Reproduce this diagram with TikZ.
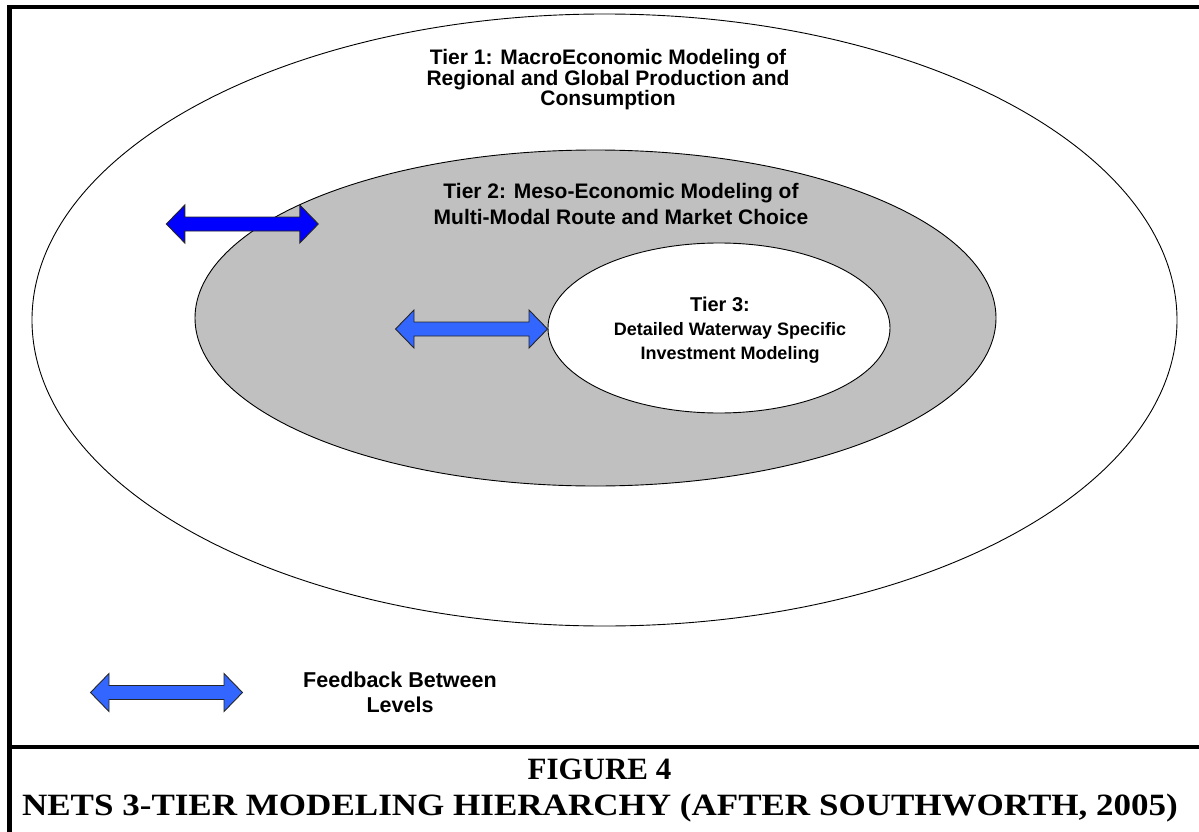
\documentclass[tikz,border=0pt]{standalone}
\usepackage{fontspec}
\setmainfont{Liberation Sans}
\newfontfamily\captionfont{Liberation Serif}
\definecolor{deepblue}{RGB}{0,0,255}
\definecolor{skyblue}{RGB}{51,102,255}
\definecolor{mesogray}{RGB}{192,192,192}
\begin{document}
\begin{tikzpicture}[x=1pt,y=-1pt,
  ring/.style={draw=black, line width=0.9pt},
  tiertext/.style={font=\bfseries\fontsize{21}{#1}\selectfont, align=center, inner sep=0pt, anchor=north},
  smalltext/.style={font=\bfseries\fontsize{18}{#1}\selectfont, align=center, inner sep=0pt, anchor=north},
  frameline/.style={line width=4.5pt},
  captiontext/.style={font=\captionfont\bfseries\fontsize{31}{31}\selectfont, inner sep=0pt, anchor=base},
  pics/feedback/.style={code={
    \draw[line width=0.9pt, draw=black!85, fill=#1, line join=miter]
      (-76,0) -- (-57.5,-19) -- (-57.5,-7) -- (57.5,-7) -- (57.5,-19) -- (76,0)
      -- (57.5,19) -- (57.5,7) -- (-57.5,7) -- (-57.5,19) -- cycle;
  }}
]
\useasboundingbox (0,0) rectangle (1199,832);
\fill[white] (0,0) rectangle (1199,832);

% outer frame and caption separator
\draw[frameline] (9.5,5) -- (9.5,840);
\draw[frameline] (7,7) -- (1210,7);
\draw[frameline] (7,747) -- (1210,747);

% nested tiers
\draw[ring, fill=white] (604.5,320) ellipse [x radius=572.5, y radius=306];
\draw[ring, fill=mesogray] (595.5,318) ellipse [x radius=400.5, y radius=168];
\draw[ring, fill=white] (719,328) ellipse [x radius=171, y radius=85];

% feedback arrows
\pic at (242.3,224) {feedback=deepblue};
\pic at (471.5,329) {feedback=skyblue};
\pic at (166.5,692.5) {feedback=skyblue};

% tier labels
\node[tiertext=20.6] (tier1) at (608,49)
  {Tier 1: MacroEconomic Modeling of\\Regional and Global Production and\\Consumption};
\node[tiertext=25.8] (tier2) at (621,183)
  {Tier 2: Meso-Economic Modeling of\\Multi-Modal Route and Market Choice};
\node[smalltext=24] (tier3) at (730,297)
  {{\fontsize{20}{24}\selectfont Tier 3:\hspace*{20pt}}\\Detailed Waterway Specific\\Investment Modeling};

% legend
\node[font=\bfseries\fontsize{21.5}{25}\selectfont, align=center, inner sep=0pt, anchor=north] (legend) at (400,672)
  {Feedback Between\\Levels};

% caption
\node[captiontext] (figno) at (599.5,779) {FIGURE 4};
\node[captiontext, xscale=1.13] (figtitle) at (600,815) {NETS 3-TIER MODELING HIERARCHY (AFTER SOUTHWORTH, 2005)};
\end{tikzpicture}
\end{document}
